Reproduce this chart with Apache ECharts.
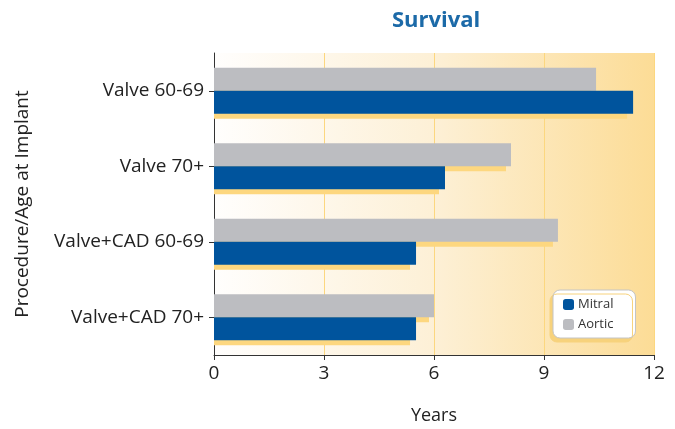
<!DOCTYPE html>
<html>
<head>
<meta charset="utf-8">
<title>Survival</title>
<style>
  *{margin:0;padding:0;}
  body{background:#fff;}
  #chart{width:675px;height:429px;}
</style>
</head>
<body>
<div id="chart"></div>
<script src="https://cdn.jsdelivr.net/npm/echarts@6/dist/echarts.min.js"></script>
<script>
// data
var categories = ['Valve 60-69', 'Valve 70+', 'Valve+CAD 60-69', 'Valve+CAD 70+'];
var mitral = [11.43, 6.30, 5.51, 5.51];
var aortic = [10.42, 8.10, 9.38, 6.00];
var xTicks = [0, 3, 6, 9, 12];

var chart = echarts.init(document.getElementById('chart'));

// yellow "drop shadow" under each bar, offset down and shorter
function shadowItem(params, api) {
  var cat = api.value(0);
  var val = api.value(1);
  var which = api.value(2); // 0 = aortic (upper), 1 = mitral (lower)
  var p0 = api.coord([0, cat]);
  var p1 = api.coord([val, cat]);
  var bw = 23;
  var y = which === 0 ? p0[1] - bw + 5 : p0[1] + 5;
  var x1 = p1[0] - (which === 0 ? 5 : 6);
  return {
    type: 'rect',
    shape: {x: p0[0], y: y, width: x1 - p0[0], height: bw},
    style: {fill: '#fdd77f'}
  };
}

var shadowData = [];
categories.forEach(function (c, i) {
  shadowData.push([i, aortic[i], 0]);
  shadowData.push([i, mitral[i], 1]);
});

var font = 'Open Sans';

var option = {
  animation: false,
  title: {
    text: 'Survival',
    left: 387,
    top: 5,
    textStyle: {color: '#1c6aa8', fontSize: 22, fontWeight: 'bold', fontFamily: font}
  },
  legend: {
    data: ['Mitral', 'Aortic'],
    orient: 'vertical',
    left: 553,
    top: 290,
    itemWidth: 11,
    itemHeight: 11,
    itemGap: 7,
    padding: [8, 22, 7, 10],
    backgroundColor: '#fff',
    borderColor: '#c4c4c4',
    borderWidth: 1,
    borderRadius: 7,
    shadowColor: '#f7d27c',
    shadowBlur: 0,
    shadowOffsetX: -3,
    shadowOffsetY: 4,
    textStyle: {fontSize: 13, color: '#333', fontFamily: font, padding: [0, 0, 0, -1]}
  },
  grid: {
    left: 214, right: 21, top: 53, bottom: 74,
    outerBoundsMode: 'none',
    show: true,
    borderWidth: 0,
    backgroundColor: new echarts.graphic.LinearGradient(0, 0, 1, 0, [
      {offset: 0, color: '#fffefd'},
      {offset: 0.5, color: '#fdf0d6'},
      {offset: 1, color: '#fcdc96'}
    ])
  },
  xAxis: {
    type: 'value',
    min: xTicks[0],
    max: xTicks[xTicks.length - 1],
    interval: 3,
    name: 'Years',
    nameLocation: 'middle',
    nameGap: 52,
    nameTextStyle: {fontSize: 18, color: '#222', fontFamily: font},
    axisLine: {show: true, lineStyle: {color: '#333', width: 1}},
    axisTick: {show: true, length: 5, lineStyle: {color: '#333'}},
    axisLabel: {fontSize: 19, color: '#222', margin: 9, fontFamily: font},
    splitLine: {show: true, lineStyle: {color: '#fcd77f', width: 1}}
  },
  yAxis: {
    type: 'category',
    data: categories,
    inverse: true,
    name: 'Procedure/Age at Implant',
    nameLocation: 'middle',
    nameGap: 182,
    nameTextStyle: {fontSize: 19, color: '#222', fontFamily: font},
    axisLine: {show: true, lineStyle: {color: '#333', width: 1}},
    axisTick: {show: true, alignWithLabel: true, length: 5, lineStyle: {color: '#333'}},
    axisLabel: {fontSize: 19, color: '#222', margin: 10, fontFamily: font}
  },
  series: [
    {
      name: 'shadow',
      type: 'custom',
      renderItem: shadowItem,
      data: shadowData,
      encode: {x: 1, y: 0},
      z: 1,
      silent: true
    },
    {
      name: 'Aortic',
      type: 'bar',
      data: aortic,
      barWidth: 23,
      barGap: '0%',
      itemStyle: {color: '#bcbdc1'},
      z: 3
    },
    {
      name: 'Mitral',
      type: 'bar',
      data: mitral,
      barWidth: 23,
      barGap: '0%',
      itemStyle: {color: '#00549d'},
      z: 3
    }
  ]
};

chart.setOption(option);
</script>
</body>
</html>
